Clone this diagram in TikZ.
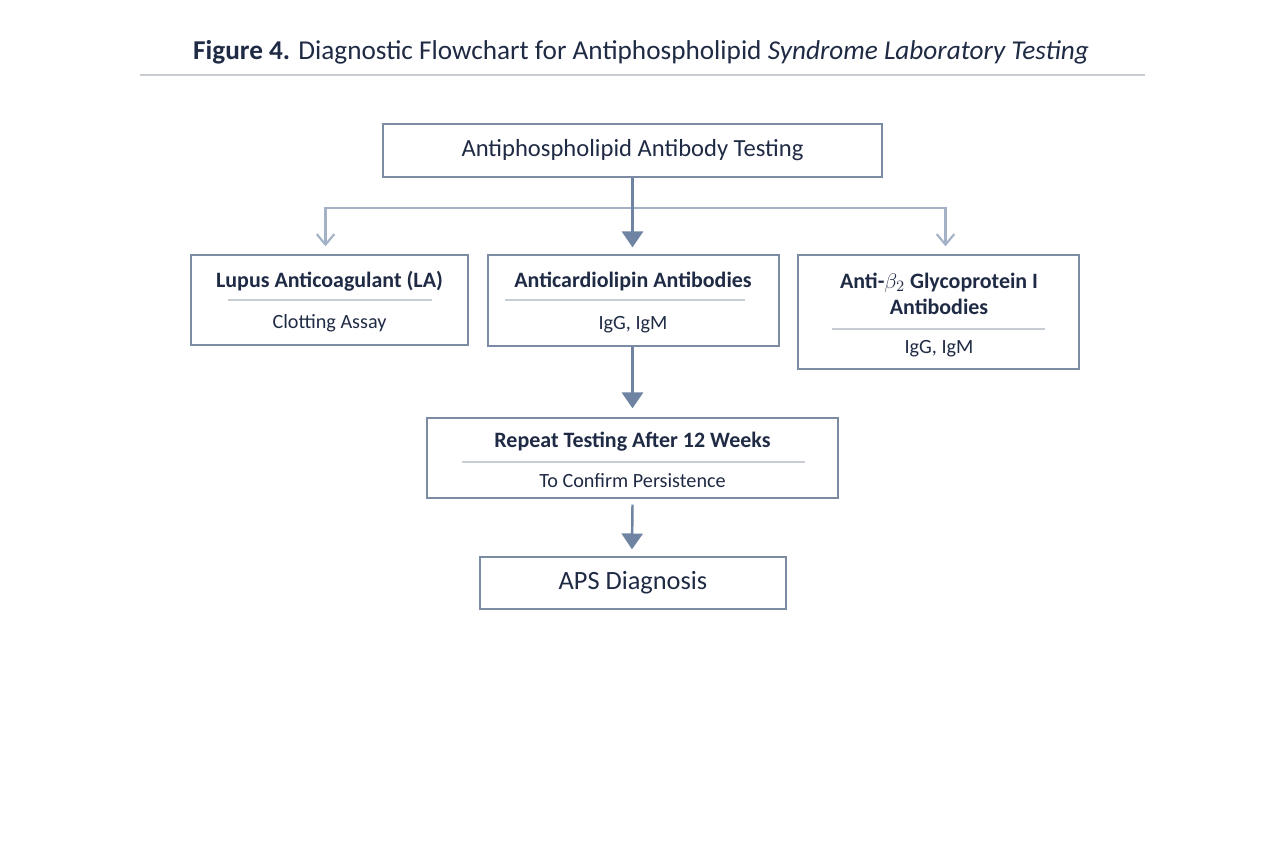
\documentclass[tikz,border=0pt]{standalone}
\usepackage{fontspec}
\setmainfont{Carlito}
\usetikzlibrary{positioning,calc,arrows.meta}

\definecolor{boxline}{HTML}{7A8BA3}
\definecolor{ink}{HTML}{1F2A44}
\definecolor{arrowdark}{HTML}{6F84A3}
\definecolor{arrowlight}{HTML}{A3B2C6}
\definecolor{rulegray}{HTML}{C8CDD4}

\tikzset{
  box/.style={draw=boxline, thick, text=ink, align=center, inner sep=0pt},
  sep/.style={draw=rulegray, thick},
  main/.style={arrowdark, line width=1.4pt, -{Triangle[width=12pt,length=9pt]}},
  side/.style={arrowlight, line width=1.2pt, -{Straight Barb[width=10pt,length=6pt]}},
  head/.style={font=\fontsize{12.5}{15}\selectfont\bfseries, text=ink},
  sub/.style={font=\fontsize{11.5}{14}\selectfont, text=ink}
}

\begin{document}
\begin{tikzpicture}[x=0.02cm,y=-0.02cm]
\useasboundingbox (0,0) rectangle (1280,853);

% title
\node[text=ink, font=\fontsize{15.5}{18}\selectfont] (title) at (641,52)
  {\textbf{Figure 4.} Diagnostic Flowchart for Antiphospholipid \textit{Syndrome Laboratory Testing}};
\draw[rulegray, thick] (140,75) -- (1145,75);

% boxes
\node[box, minimum width=499*0.02cm, minimum height=53*0.02cm,
  font=\fontsize{14}{17}\selectfont] (apl) at (632.5,150.5) {Antiphospholipid Antibody Testing};
\node[box, minimum width=277*0.02cm, minimum height=90*0.02cm] (la) at (329.5,300) {};
\node[box, minimum width=291*0.02cm, minimum height=91*0.02cm] (acl) at (633.5,300.5) {};
\node[box, minimum width=281*0.02cm, minimum height=114*0.02cm] (b2gp) at (938.5,312) {};
\node[box, minimum width=411*0.02cm, minimum height=80*0.02cm] (rep) at (632.5,458) {};
\node[box, minimum width=306*0.02cm, minimum height=52*0.02cm,
  font=\fontsize{15}{18}\selectfont] (aps) at (633,583) {APS Diagnosis};

% box texts
\node[head] (lahead) at (329.5,281) {Lupus Anticoagulant (LA)};
\draw[sep] (228,300) -- (432,300);
\node[sub] (lasub) at (329.5,323) {Clotting Assay};

\node[head] (aclhead) at (633,281) {Anticardiolipin Antibodies};
\draw[sep] (505,300) -- (745,300);
\node[sub] (aclsub) at (633,325) {IgG, IgM};

\node[head, align=center] (b2head) at (939,294) {Anti-$\beta_2$ Glycoprotein I\\Antibodies};
\draw[sep] (832,329) -- (1045,329);
\node[sub] (b2sub) at (939,349) {IgG, IgM};

\node[head] (rephead) at (632.5,442) {Repeat Testing After 12 Weeks};
\draw[sep] (462,462) -- (805,462);
\node[sub] (repsub) at (632.5,481) {To Confirm Persistence};

% connectors
\coordinate (split) at (632,208);
\draw[side] (split) -| ($(la.north)+(-4,-8)$);
\draw[side] (split) -| ($(b2gp.north)+(7,-8)$);
\draw[main] (apl.south) -- ($(acl.north)+(-1,-7)$);
\draw[main] (acl.south -| rep.north) -- ($(rep.north)+(0,-9)$);
\draw[main] ($(rep.south)+(0,6)$) -- ($(aps.north)+(-1,-7)$);
\end{tikzpicture}
\end{document}
